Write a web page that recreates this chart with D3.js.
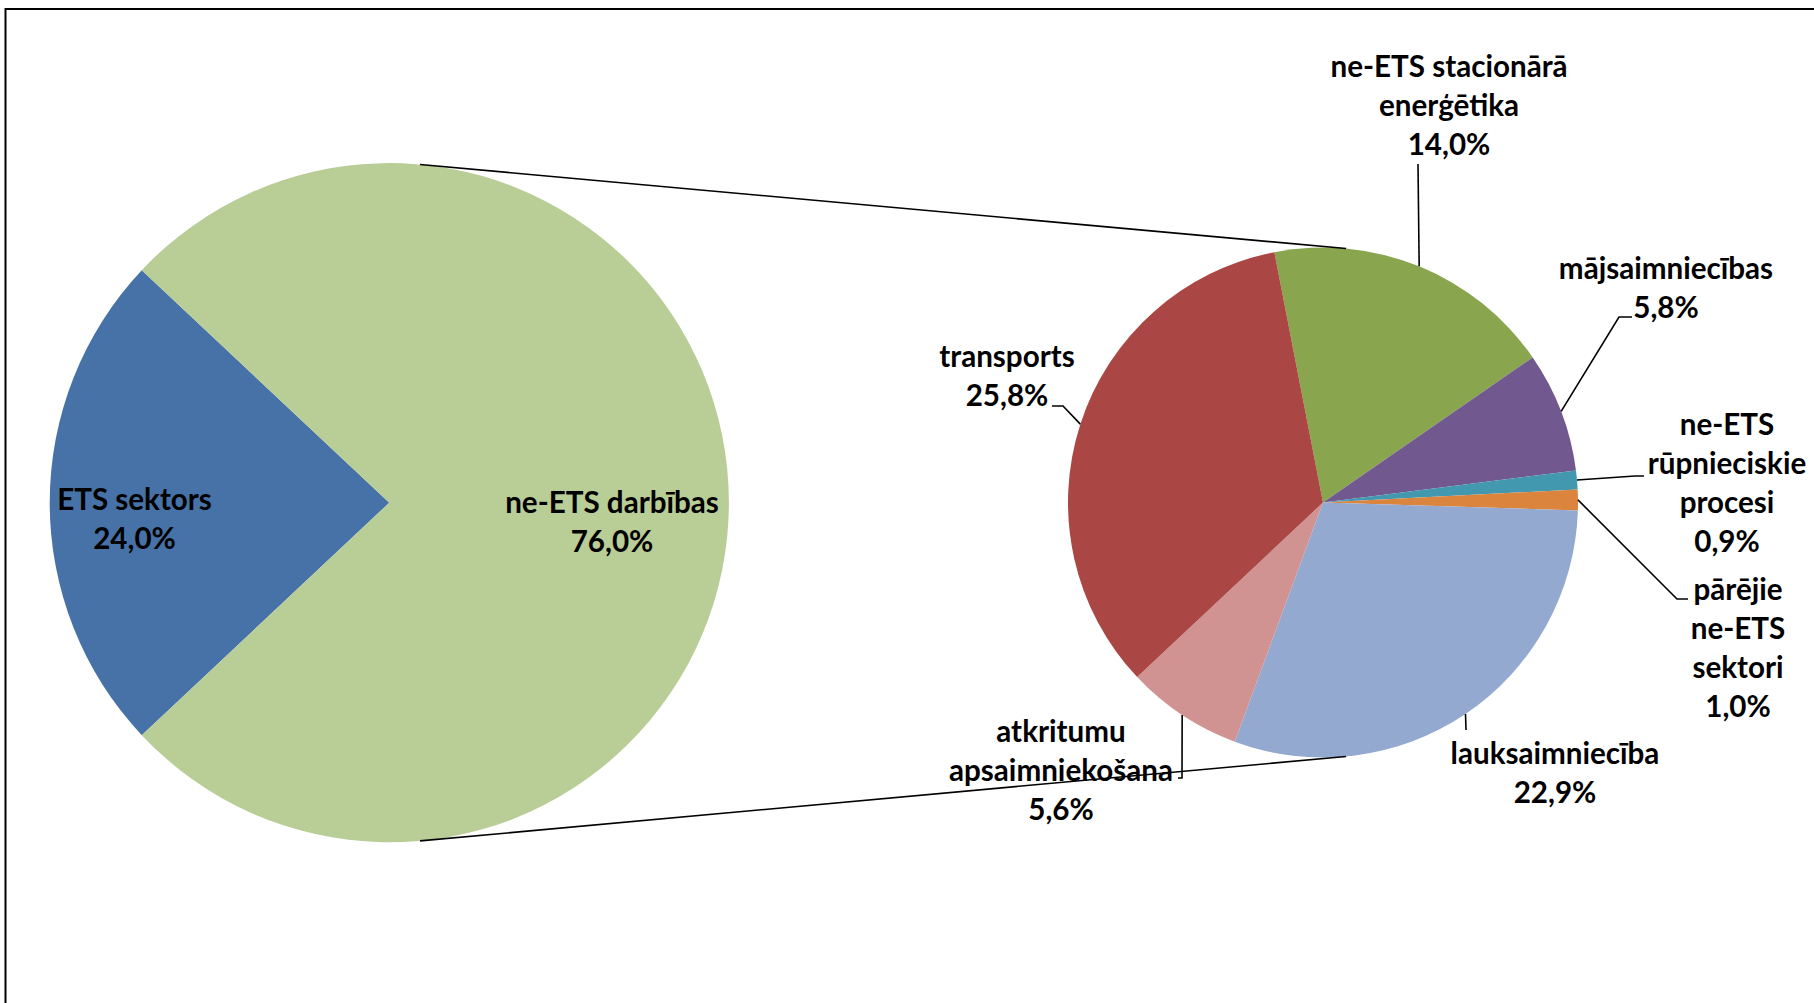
<!DOCTYPE html>
<html>
<head>
<meta charset="utf-8">
<script src="https://cdn.jsdelivr.net/npm/d3@7"></script>
<style>
  html, body { margin: 0; padding: 0; background: #ffffff; }
  svg { display: block; }
  text { font-family: Lato, "Open Sans", sans-serif; font-weight: 700; fill: #000; }
</style>
</head>
<body>
<svg id="chart" width="1814" height="1003"></svg>
<script>
// ---------- DATA ----------
const mainCategories = ["ETS sektors", "ne-ETS darbības"];
const mainValues = [24.0, 76.0];

const subCategories = [
  "ne-ETS stacionārā\nenerģētika",
  "mājsaimniecības",
  "ne-ETS\nrūpnieciskie\nprocesi",
  "pārējie\nne-ETS\nsektori",
  "lauksaimniecība",
  "atkritumu\napsaimniekošana",
  "transports"
];
const subValues = [14.0, 5.8, 0.9, 1.0, 22.9, 5.6, 25.8];

// ---------- STYLE / LAYOUT ----------
const mainColors = ["#4672A7", "#B9CD96"];
const subColors = ["#89A54E", "#71588F", "#4198AF", "#DB843D", "#93A9CF", "#D19392", "#AA4644"];

const W = 1814, H = 1003;
const leftPie = { cx: 389.3, cy: 502.7, r: 339.6 };
const rightPie = { cx: 1323, cy: 502.5, r: 255, startDeg: -11.0 };
const fontSize = 29.6;
const lineGap = 39;
const dy = 2;

const mainLabelPos = [
  { x: 134.5, y: 508 },
  { x: 612, y: 511 }
];
const subLabelPos = [
  { x: 1449, y: 75, leader: [[1418, 164]] },
  { x: 1666, y: 277, leader: [[1619, 317], [1632, 317]] },
  { x: 1727, y: 433, leader: [[1635, 476], [1644, 476]] },
  { x: 1738, y: 598, leader: [[1677, 599], [1688, 599]] },
  { x: 1555, y: 762, leader: [[1466, 730]] },
  { x: 1061, y: 740, leader: [[1182, 778], [1178, 778]] },
  { x: 1007, y: 365, leader: [[1063, 406], [1052, 406]] }
];

const fmt = v => d3.format(".1f")(v).replace(".", ",") + "%";
const rad = d => d * Math.PI / 180;

const svg = d3.select("#chart");

// frame
svg.append("rect")
  .attr("x", 5.5).attr("y", 9).attr("width", W + 50).attr("height", H + 50)
  .attr("fill", "#fff").attr("stroke", "#000").attr("stroke-width", 2);

// ---------- LEFT PIE ----------
const mainSum = d3.sum(mainValues);
const mainStart = 1.5 * Math.PI - (mainValues[0] / mainSum) * Math.PI;
const mainPie = d3.pie().sort(null).startAngle(mainStart).endAngle(mainStart + 2 * Math.PI);
const mainArcs = mainPie(mainValues);
const mainArc = d3.arc().innerRadius(0).outerRadius(leftPie.r);

const gL = svg.append("g").attr("transform", `translate(${leftPie.cx},${leftPie.cy})`);
gL.selectAll("path").data(mainArcs).join("path")
  .attr("d", mainArc)
  .attr("fill", (d, i) => mainColors[i]);

// ---------- RIGHT PIE ----------
const subStart = rad(rightPie.startDeg);
const subPie = d3.pie().sort(null).startAngle(subStart).endAngle(subStart + 2 * Math.PI);
const subArcs = subPie(subValues);
const subArc = d3.arc().innerRadius(0).outerRadius(rightPie.r);
const edgeArc = d3.arc().innerRadius(rightPie.r).outerRadius(rightPie.r);

const gR = svg.append("g").attr("transform", `translate(${rightPie.cx},${rightPie.cy})`);
gR.selectAll("path").data(subArcs).join("path")
  .attr("d", subArc)
  .attr("fill", (d, i) => subColors[i]);

// ---------- LABELS ----------
function drawLabel(lines, pos) {
  const t = svg.append("text")
    .attr("text-anchor", "middle")
    .attr("font-size", fontSize);
  lines.forEach((ln, k) => {
    t.append("tspan").attr("x", pos.x).attr("y", pos.y + dy + k * lineGap).text(ln);
  });
}

mainCategories.forEach((c, i) => {
  drawLabel([...c.split("\n"), fmt(mainValues[i])], mainLabelPos[i]);
});

// leader lines
const line = d3.line();
subArcs.forEach((a, i) => {
  const c = edgeArc.centroid(a);
  const start = [rightPie.cx + c[0], rightPie.cy + c[1]];
  svg.append("path")
    .attr("d", line([start, ...subLabelPos[i].leader]))
    .attr("fill", "none").attr("stroke", "#000").attr("stroke-width", 1.6);
});

subCategories.forEach((c, i) => {
  drawLabel([...c.split("\n"), fmt(subValues[i])], subLabelPos[i]);
});

// ---------- CONNECTOR LINES (external tangents) ----------
const dist = rightPie.cx - leftPie.cx;
const th = Math.asin((leftPie.r - rightPie.r) / dist);
[-1, 1].forEach(s => {
  const p1 = [leftPie.cx + leftPie.r * Math.sin(th), leftPie.cy + s * leftPie.r * Math.cos(th)];
  const p2 = [rightPie.cx + rightPie.r * Math.sin(th), rightPie.cy + s * rightPie.r * Math.cos(th)];
  svg.append("path").attr("d", line([p1, p2]))
    .attr("fill", "none").attr("stroke", "#000").attr("stroke-width", 1.6);
});
</script>
</body>
</html>
